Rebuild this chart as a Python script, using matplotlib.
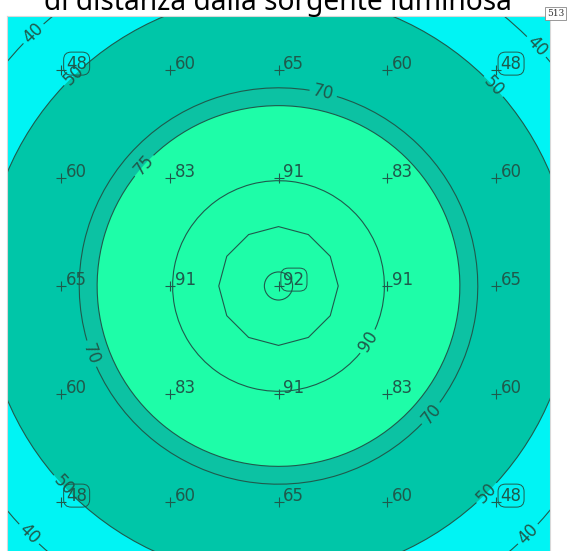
import numpy as np
import matplotlib
matplotlib.use('Agg')
import matplotlib.pyplot as plt
from matplotlib.patches import Circle, Arc, RegularPolygon

# calculation points (m) and illuminance (lux)
grid_x = [1, 3, 5, 7, 9]
grid_y = [9, 7, 5, 3, 1]
grid_lux = [[48, 60, 65, 60, 48],
            [60, 83, 91, 83, 60],
            [65, 91, 92, 91, 65],
            [60, 83, 91, 83, 60],
            [48, 60, 65, 60, 48]]

# iso-lux lines: level and distance from the light source (m)
iso_levels = [40, 50, 70, 75, 90, 92]
iso_radius = [6.5, 5.42, 3.67, 3.34, 1.95, 0.26]
poly_level_radius = 1.1   # 12-sided line around the source
# where each line carries its label (deg around the source)
iso_label_angles = {40: [134, 43, -135, -45],
                    50: [134, 43, -137, -45],
                    70: [77, 200, -40],
                    75: [138],
                    90: [-32]}

source = (5, 5)
room = (10, 10)

c_out = '#00f4f4'
c_mid = '#00c6a8'
c_ring = '#0cc2a3'
c_in = '#1efda8'
c_line = '#1f5a4c'

fig = plt.figure(figsize=(5.71, 5.51), dpi=100)
ax = fig.add_axes([7/571, -5/551, 543/571, 540/551])
ax.set_xlim(0, room[0])
ax.set_ylim(0, room[1])
ax.set_facecolor(c_out)
ax.set_xticks([])
ax.set_yticks([])
for s in ax.spines.values():
    s.set_color('#d8d8d8')
    s.set_linewidth(0.8)

r = dict(zip(iso_levels, iso_radius))
ax.add_patch(Circle(source, r[50], color=c_mid, lw=0))
ax.add_patch(Circle(source, r[70], color=c_ring, lw=0))
ax.add_patch(Circle(source, r[75], color=c_in, lw=0))

lab_font = dict(fontsize=12, color=c_line, family='DejaVu Sans')
px_per_m = 54.2

for lev in iso_levels:
    rad = r[lev]
    angs = iso_label_angles.get(lev, [])
    if not angs:
        ax.add_patch(Circle(source, rad, fill=False, ec=c_line, lw=0.8))
        continue
    gap = np.degrees(14 / (rad * px_per_m))
    a = sorted(x % 360 for x in angs)
    for i, a0 in enumerate(a):
        a1 = a[(i + 1) % len(a)]
        if a1 <= a0:
            a1 += 360
        ax.add_patch(Arc(source, 2 * rad, 2 * rad, theta1=a0 + gap,
                         theta2=a1 - gap, ec=c_line, lw=0.8))
    for ang in a:
        t = np.radians(ang)
        rot = (ang - 90) % 180
        if rot > 90:
            rot -= 180
        ax.text(source[0] + rad * np.cos(t), source[1] + rad * np.sin(t),
                str(lev), rotation=rot, rotation_mode='anchor',
                ha='center', va='center', **lab_font)

ax.add_patch(RegularPolygon(source, numVertices=12, radius=poly_level_radius,
                            orientation=0, fill=False, ec=c_line, lw=0.8))

vals = np.array(grid_lux)
vmin, vmax = vals.min(), vals.max()
for j, yy in enumerate(grid_y):
    for i, xx in enumerate(grid_x):
        v = grid_lux[j][i]
        ax.plot(xx, yy, marker='+', ms=7, mew=0.8, color=c_line)
        box = None
        if v == vmin or v == vmax:
            box = dict(boxstyle='round,pad=0.15,rounding_size=0.45',
                       fc='none', ec=c_line, lw=0.7)
        ax.annotate(str(v), (xx, yy), xytext=(3.5, 1), textcoords='offset points',
                    ha='left', va='baseline', bbox=box, **lab_font)

fig.text(278 / 571, 1 - 10 / 551, 'di distanza dalla sorgente luminosa',
         ha='center', va='baseline', fontsize=20.3, family='Noto Sans', color='black')
fig.text(555.5 / 571, 1 - 13.5 / 551, '513', ha='center', va='center',
         fontsize=6.5, family='DejaVu Serif', color='#333333',
         bbox=dict(boxstyle='square,pad=0.2', fc='white', ec='#888888', lw=0.6))

fig.savefig('out.png', dpi=100)
